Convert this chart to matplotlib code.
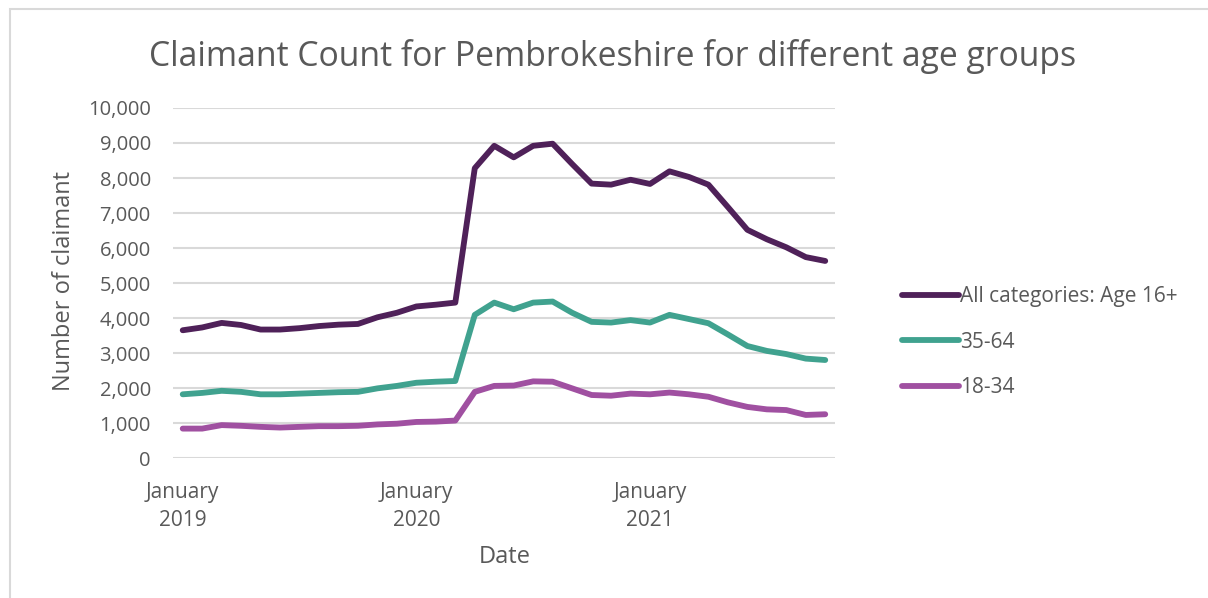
import matplotlib
matplotlib.use("Agg")
import matplotlib.pyplot as plt
import numpy as np
from matplotlib.patches import Rectangle

TITLE = "Claimant Count for Pembrokeshire for different age groups"
X_LABEL = "Date"
Y_LABEL = "Number of claimant"
TEXT_COLOR = "#595959"

# monthly values, January 2019 to October 2021
all_ages = [3650, 3730, 3860, 3800, 3670, 3670, 3710, 3770, 3810, 3830,
            4020, 4150, 4330, 4380, 4440, 8280, 8920, 8590, 8920, 8980,
            8400, 7840, 7810, 7950, 7830, 8190, 8030, 7810, 7170, 6520,
            6250, 6020, 5740, 5630]
age_35_64 = [1820, 1860, 1920, 1890, 1820, 1820, 1840, 1860, 1880, 1890,
             1990, 2060, 2150, 2180, 2200, 4090, 4440, 4250, 4440, 4470,
             4150, 3890, 3870, 3940, 3870, 4090, 3970, 3850, 3530, 3200,
             3060, 2970, 2840, 2800]
age_18_34 = [840, 840, 940, 920, 890, 870, 890, 910, 910, 920,
             960, 980, 1030, 1040, 1070, 1890, 2060, 2070, 2190, 2180,
             1990, 1800, 1780, 1840, 1820, 1870, 1820, 1750, 1590, 1460,
             1390, 1370, 1230, 1250]

tick_pos = [0, 12, 24]
tick_labels = ["January\n2019", "January\n2020", "January\n2021"]
y_ticks = np.arange(0, 10001, 1000)

series = [("All categories: Age 16+", all_ages, "#4F2159"),
          ("35-64", age_35_64, "#40A28F"),
          ("18-34", age_18_34, "#A050A1")]

plt.rcParams["font.family"] = ["Open Sans", "DejaVu Sans"]

fig = plt.figure(figsize=(12.08, 5.98), dpi=100)
fig.patches.append(Rectangle((10 / 1208, -0.1), 1.2, 1 - 9 / 598 + 0.1,
                             transform=fig.transFigure, fill=False,
                             edgecolor="#D9D9D9", lw=1.5))
ax = fig.add_axes([0.1432, 0.2341, 0.548, 0.5853])

x = np.arange(len(all_ages))
for name, vals, col in series:
    ax.plot(x, vals, color=col, lw=4.2, solid_capstyle="round",
            solid_joinstyle="round", label=name)

ax.set_xlim(-0.5, len(all_ages) - 0.5)
ax.set_ylim(0, 10000)
ax.set_yticks(y_ticks)
ax.set_yticklabels([f"{v:,}" for v in y_ticks])
ax.set_xticks(tick_pos)
ax.set_xticklabels(tick_labels, linespacing=1.45)
ax.tick_params(axis="both", length=0, colors=TEXT_COLOR)
ax.tick_params(axis="y", pad=16, labelsize=14.5)
ax.tick_params(axis="x", pad=17, labelsize=15)
ax.grid(axis="y", color="#D9D9D9", lw=1.5)
ax.set_axisbelow(True)
for s in ax.spines.values():
    s.set_visible(False)

fig.text(0.507, 0.906, TITLE, ha="center", va="center", fontsize=24.3,
         color=TEXT_COLOR)
fig.text(0.418, 0.068, X_LABEL, ha="center", va="center", fontsize=17,
         color=TEXT_COLOR)
fig.text(0.053, 0.53, Y_LABEL, ha="center", va="center", fontsize=17,
         color=TEXT_COLOR, rotation=90)

leg = fig.legend(loc="center left", bbox_to_anchor=(0.731, 0.428), frameon=False,
                 fontsize=15, handlelength=2.75, handletextpad=0.05,
                 labelspacing=1.18)
for t in leg.get_texts():
    t.set_color(TEXT_COLOR)

fig.savefig("out.png", dpi=100)
